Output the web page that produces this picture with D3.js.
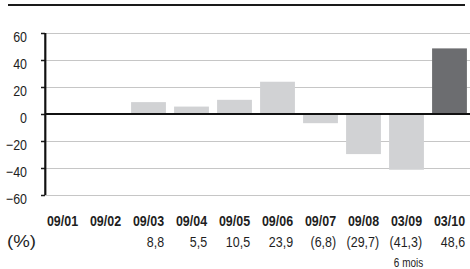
<!DOCTYPE html>
<html><head><meta charset="utf-8">
<script src="https://cdn.jsdelivr.net/npm/d3@7"></script>
<style>
html,body{margin:0;padding:0;background:#fff;}
svg{display:block;}
text{font-family:"Liberation Sans",Arial,sans-serif;fill:#1e1e1e;}
</style></head>
<body>
<svg id="c" width="470" height="269"></svg>
<script>
const categories = ["09/01","09/02","09/03","09/04","09/05","09/06","09/07","09/08","03/09","03/10"];
const values = [null,null,8.8,5.5,10.5,23.9,-6.8,-29.7,-41.3,48.6];
const valueLabels = ["","","8,8","5,5","10,5","23,9","(6,8)","(29,7)","(41,3)","48,6"];
const highlight = ["03/10"];
const yTicks = [60,40,20,0,-20,-40,-60];
const unitLabel = "(%)";
const note = {category:"03/09", text:"6 mois"};

const SX = 0.83; // condensed look
const svg = d3.select("#c");
const x = d3.scaleBand().domain(categories).range([41,471]).paddingInner(0.19).paddingOuter(0.095);
const y = d3.scaleLinear().domain([-60,60]).range([195,33]);

function ctext(g, px, py, size, anchor, txt, weight){
  return g.append("text").attr("transform",`translate(${px},${py}) scale(${SX},1)`)
    .attr("text-anchor",anchor).attr("font-size",size)
    .attr("font-weight",weight||"normal").text(txt);
}

// top rule
svg.append("line").attr("x1",8).attr("x2",465).attr("y1",5).attr("y2",5)
  .attr("stroke","#1a1a1a").attr("stroke-width",2);

// gridlines
svg.append("g").selectAll("line").data(yTicks.filter(d=>d!==0)).join("line")
  .attr("x1",45).attr("x2",470).attr("y1",d=>y(d)+0.5).attr("y2",d=>y(d)+0.5)
  .attr("stroke","#c6c6c6").attr("stroke-width",1);

// y axis
const yAxis = d3.axisLeft(y).tickValues(yTicks).tickSize(4).tickFormat(d3.format("d"));
const ga = svg.append("g").attr("transform","translate(45,0)").call(yAxis);
ga.select(".domain").remove();
ga.selectAll(".tick line").attr("stroke","#1a1a1a").attr("stroke-width",1.5);
ga.selectAll(".tick text")
  .attr("x",null).attr("dy",null)
  .attr("transform",`translate(-18,8) scale(${SX},1)`)
  .attr("text-anchor","end")
  .attr("font-size",15).attr("fill","#1e1e1e")
  .style("font-family",'"Liberation Sans",Arial,sans-serif');
svg.append("line").attr("x1",45.3).attr("x2",45.3).attr("y1",y(60)).attr("y2",y(-60))
  .attr("stroke","#111").attr("stroke-width",2.2);

// bars
const data = categories.map((c,i)=>({c, v: values[i], lab: valueLabels[i]}));
svg.append("g").selectAll("rect").data(data.filter(d=>d.v!==null)).join("rect")
  .attr("x",d=>x(d.c)).attr("width",x.bandwidth())
  .attr("y",d=>y(Math.max(0,d.v))).attr("height",d=>Math.abs(y(d.v)-y(0)))
  .attr("fill",d=>highlight.includes(d.c)?"#6c6d70":"#d1d2d4");

// zero line
svg.append("line").attr("x1",45).attr("x2",470).attr("y1",y(0)).attr("y2",y(0))
  .attr("stroke","#111").attr("stroke-width",2);

// category labels and values
const cx = c=>x(c)+x.bandwidth()/2;
const gl = svg.append("g");
data.forEach(d=>{
  const t = ctext(gl, cx(d.c), 226, 15, "middle", d.c, "bold");
  const w = t.node().getComputedTextLength()*SX;
  if (d.lab) ctext(gl, cx(d.c)+w/2, 247, 15, "end", d.lab);
});

svg.append("text").attr("x",7).attr("y",247).attr("font-size",16)
  .attr("textLength",29).attr("lengthAdjust","spacingAndGlyphs").text(unitLabel);

ctext(svg, cx(note.category)+2, 267, 12, "middle", note.text);
</script>
</body></html>
